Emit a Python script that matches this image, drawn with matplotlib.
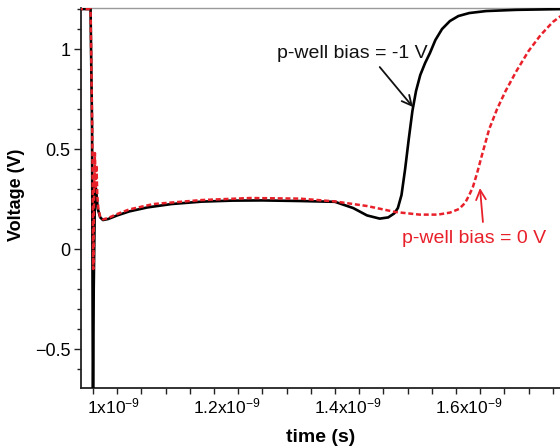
import matplotlib
matplotlib.use("Agg")
import matplotlib.pyplot as plt
import numpy as np
from matplotlib.ticker import FixedLocator, MultipleLocator
from matplotlib.transforms import ScaledTranslation

plt.rcParams['font.family'] = ['Liberation Sans', 'DejaVu Sans']
plt.rcParams['mathtext.fontset'] = 'custom'
plt.rcParams['mathtext.rm'] = 'Liberation Sans'
plt.rcParams['mathtext.it'] = 'Liberation Sans:italic'
plt.rcParams['mathtext.bf'] = 'Liberation Sans:bold'

# Output node voltage vs time for two p-well bias settings (time in ns)
t_bias_m1 = [0.975, 0.996, 0.9985, 1.0000, 1.0012, 1.0035, 1.0050, 1.0080, 1.0120,
             1.0165, 1.025, 1.040, 1.060, 1.090, 1.130, 1.180, 1.230, 1.280, 1.342,
             1.400, 1.430, 1.453, 1.474, 1.488, 1.498, 1.504, 1.510, 1.516, 1.522,
             1.528, 1.534, 1.541, 1.549, 1.557, 1.566, 1.577, 1.590, 1.604, 1.622,
             1.650, 1.700, 1.780]
v_bias_m1 = [1.2, 1.2, 0.6, -0.9, -0.2, 0.33, 0.30, 0.20, 0.158,
             0.145, 0.150, 0.168, 0.188, 0.208, 0.225, 0.237, 0.242, 0.243, 0.240,
             0.236, 0.205, 0.168, 0.152, 0.158, 0.178, 0.205, 0.27, 0.40, 0.55,
             0.69, 0.79, 0.87, 0.93, 0.98, 1.045, 1.10, 1.14, 1.165, 1.18,
             1.19, 1.196, 1.2]

t_bias_0 = [0.975, 0.996, 0.9988, 1.0005, 1.0020, 1.0032, 1.0045, 1.0058, 1.0072,
            1.0090, 1.0120, 1.0165, 1.025, 1.040, 1.060, 1.100, 1.180, 1.260,
            1.342, 1.400, 1.453, 1.500, 1.540, 1.570, 1.590, 1.605, 1.615, 1.622,
            1.628, 1.635, 1.643, 1.655, 1.668, 1.682, 1.700, 1.720, 1.740, 1.760,
            1.780]
v_bias_0 = [1.2, 1.2, 0.6, -0.1, 0.30, 0.48, 0.30, 0.42, 0.26,
            0.20, 0.16, 0.148, 0.155, 0.175, 0.198, 0.225, 0.245, 0.255,
            0.252, 0.238, 0.215, 0.185, 0.172, 0.172, 0.182, 0.20, 0.23, 0.27,
            0.31, 0.38, 0.47, 0.60, 0.70, 0.79, 0.89, 0.99, 1.07, 1.135,
            1.18]

x_ticks = [1.0e-9, 1.2e-9, 1.4e-9, 1.6e-9]
x_tick_labels = [r'1x10$^{\mathregular{-9}}$', r'1.2x10$^{\mathregular{-9}}$',
                 r'1.4x10$^{\mathregular{-9}}$', r'1.6x10$^{\mathregular{-9}}$']
y_ticks = [-0.5, 0, 0.5, 1]
y_tick_labels = ['\u22120.5', '0', '0.5', '1']

fig = plt.figure(figsize=(5.6, 4.47), dpi=100)
ax = fig.add_axes([0.1455, 0.132, 0.8545, 0.850])

ns = 1e-9
ax.plot(np.array(t_bias_m1) * ns, v_bias_m1, color='black', lw=1.9,
        solid_joinstyle='round', zorder=3)
ax.plot(np.array(t_bias_0) * ns, v_bias_0, color='#e8202a', lw=1.8,
        dashes=(2.0, 1.1), zorder=4)

ax.set_xlim(0.981e-9, 1.772e-9)
ax.set_ylim(-0.695, 1.205)

ax.xaxis.set_major_locator(FixedLocator(x_ticks))
ax.set_xticklabels(x_tick_labels)
ax.xaxis.set_minor_locator(MultipleLocator(0.04e-9))
ax.yaxis.set_major_locator(FixedLocator(y_ticks))
ax.set_yticklabels(y_tick_labels)
ax.yaxis.set_minor_locator(MultipleLocator(0.1))

ax.tick_params(axis='x', which='both', direction='out', length=4, width=1.0,
               color='#222222', labelsize=12.5, pad=2)
ax.tick_params(axis='y', which='major', direction='out', length=5, width=1.0,
               color='#222222', labelsize=13, pad=3)
ax.tick_params(axis='y', which='minor', direction='out', length=3, width=1.0,
               color='#222222')

offset = ScaledTranslation(0.47, 0, fig.dpi_scale_trans)
for lbl in ax.get_xticklabels():
    lbl.set_horizontalalignment('right')
    lbl.set_transform(lbl.get_transform() + offset)

for side in ('left', 'bottom'):
    ax.spines[side].set_color('#222222')
    ax.spines[side].set_linewidth(1.3)
ax.spines['top'].set_color('#9a9a9a')
ax.spines['top'].set_linewidth(1.0)
ax.spines['right'].set_visible(False)

ax.set_xlabel('time (s)', fontsize=14, fontweight='bold', labelpad=9)
ax.set_ylabel('Voltage (V)', fontsize=13, fontweight='bold')
ax.yaxis.set_label_coords(-0.118, 0.508)

arrow_style = '->,head_length=0.7,head_width=0.35'
ax.text(1.5537e-9, 0.98, 'p-well bias = -1 V', ha='right', va='center',
        fontsize=14, color='#111111')
ax.annotate('', xy=(1.5289e-9, 0.71), xytext=(1.474e-9, 0.91),
            arrowprops=dict(arrowstyle=arrow_style, color='#111111', lw=1.3,
                            shrinkA=0, shrinkB=0))
ax.text(1.5107e-9, 0.055, 'p-well bias = 0 V', ha='left', va='center',
        fontsize=14, color='#e8202a')
ax.annotate('', xy=(1.6397e-9, 0.305), xytext=(1.6446e-9, 0.135),
            arrowprops=dict(arrowstyle=arrow_style, color='#e8202a', lw=1.3,
                            shrinkA=0, shrinkB=0))

fig.savefig('out.png', dpi=100)
